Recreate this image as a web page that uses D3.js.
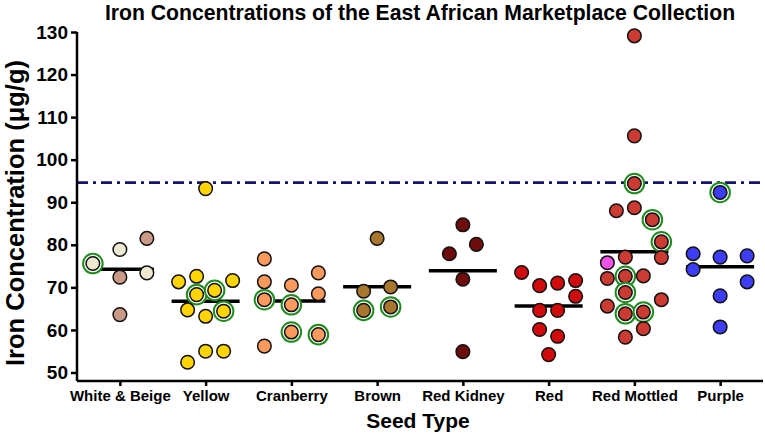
<!DOCTYPE html>
<html>
<head>
<meta charset="utf-8">
<script src="https://cdn.jsdelivr.net/npm/d3@7"></script>
<style>
  html, body { margin: 0; padding: 0; background: #fff; }
  svg { display: block; font-family: "Liberation Sans", Arial, sans-serif; }
</style>
</head>
<body>
<svg id="chart" width="765" height="435"></svg>
<script>
// ---- data ----
const categories = ["White & Beige", "Yellow", "Cranberry", "Brown", "Red Kidney", "Red", "Red Mottled", "Purple"];
const yTicks = [50, 60, 70, 80, 90, 100, 110, 120, 130];
const threshold = 94.6;

// each point: [iron µg/g, swarm column, green-ring flag, sub-type]
const whiteBeige = [[75.6, -3, 1, "white"], [78.9, 0, 0, "white"], [72.4, 0, 0, "beige"], [63.6, 0, 0, "beige"], [81.5, 3, 0, "beige"], [73.4, 3, 0, "white"]];
const yellow = [[93.2, 0, 0], [71.3, -3, 0], [72.6, -1, 0], [68.3, -1, 1], [69.3, 1, 1], [71.6, 3, 0], [64.7, -2, 0], [64.4, 2, 1], [63.2, 0, 0], [55.0, 0, 0], [55.0, 2, 0], [52.4, -2, 0]];
const cranberry = [[76.7, -3, 0], [71.3, -3, 0], [67.1, -3, 1], [56.2, -3, 0], [70.5, 0, 0], [65.9, 0, 1], [59.5, 0, 1], [73.4, 3, 0], [68.5, 3, 0], [58.9, 3, 1]];
const brown = [[81.5, 0, 0], [69.1, -1.5, 0], [70.1, 1.5, 0], [64.6, -1.5, 1], [65.4, 1.5, 1]];
const redKidney = [[84.7, 0, 0], [77.9, -1.5, 0], [80.1, 1.5, 0], [71.9, 0, 0], [54.9, 0, 0]];
const red = [[73.5, -3, 0], [70.4, -1, 0], [71.0, 1, 0], [71.6, 3, 0], [67.9, 3, 0], [64.6, -1, 0], [64.6, 1, 0], [60.1, -1, 0], [58.5, 1, 0], [54.2, 0, 0]];
const redMottled = [[129.1, 0, 0], [105.6, 0, 0], [94.4, 0, 1], [88.0, -2, 0], [88.7, 0, 0], [85.9, 2, 1], [80.7, 3, 1], [77.0, 3, 0], [77.1, -1, 0], [75.8, -3, 0, "pink"], [72.1, -3, 0], [72.6, -1, 1], [72.7, 1, 0], [68.8, -1, 1], [65.6, -3, 0], [67.1, 3, 0], [63.8, -1, 1], [64.2, 1, 1], [60.3, 1, 0], [58.3, -1, 0]];
const purple = [[92.3, 0, 1], [77.9, -3, 0], [77.1, 0, 0], [77.4, 3, 0], [74.2, -3, 0], [71.3, 3, 0], [68.0, 0, 0], [60.7, 0, 0]];

const seriesList = [whiteBeige, yellow, cranberry, brown, redKidney, red, redMottled, purple];
const baseColors = ["#c99a86", "#ffd400", "#fb9a5c", "#a8762c", "#6e0c0c", "#d10b0b", "#cc3b31", "#3d3df6"];
const subColors = { white: "#ede8d0", beige: "#c99a86", pink: "#f152e6" };

// ---- layout ----
const svg = d3.select("#chart");
const x = d3.scalePoint().domain(categories).range([77, 763]).padding(0.5);
const y = d3.scaleLinear().domain([48, 130]).range([381, 32]);
const colStep = 9;

// title
svg.append("text")
  .attr("x", 420).attr("y", 19.5)
  .attr("text-anchor", "middle")
  .attr("font-weight", "bold").attr("font-size", 21.2)
  .text("Iron Concentrations of the East African Marketplace Collection");

// threshold line
svg.append("line")
  .attr("x1", 77).attr("x2", 763)
  .attr("y1", y(threshold)).attr("y2", y(threshold))
  .attr("stroke", "#14146c").attr("stroke-width", 2.6)
  .attr("stroke-dasharray", "11,5,3,5");

// mean lines (behind points)
seriesList.forEach((s, i) => {
  const m = d3.mean(s, p => p[0]);
  svg.append("line")
    .attr("x1", x(categories[i]) - 34).attr("x2", x(categories[i]) + 34)
    .attr("y1", y(m)).attr("y2", y(m))
    .attr("stroke", "#000").attr("stroke-width", 3.5);
});

// points
const pts = [];
seriesList.forEach((s, i) => {
  s.forEach(p => pts.push({
    cat: categories[i], v: p[0], col: p[1], ring: p[2],
    color: p[3] ? subColors[p[3]] : baseColors[i]
  }));
});

const g = svg.append("g");
pts.forEach(d => {
  const cx = x(d.cat) + d.col * colStep, cy = y(d.v);
  if (d.ring) {
    g.append("circle").attr("cx", cx).attr("cy", cy).attr("r", 9.8)
      .attr("fill", "#fff").attr("stroke", "#1f8c1f").attr("stroke-width", 2);
  }
  g.append("circle").attr("cx", cx).attr("cy", cy).attr("r", 6.8)
    .attr("fill", d.color).attr("stroke", "#111").attr("stroke-width", 1.5);
});

// axes
const yAxis = svg.append("g").attr("transform", "translate(77,0)")
  .call(d3.axisLeft(y).tickValues(yTicks).tickSize(6).tickSizeOuter(0).tickPadding(3));
const xAxis = svg.append("g").attr("transform", "translate(0,381)")
  .call(d3.axisBottom(x).tickSize(5).tickSizeOuter(0).tickPadding(4));
xAxis.select(".domain").attr("d", "M77,0H763");
yAxis.select(".domain").attr("d", "M0," + y(130) + "V" + y(48));

[xAxis, yAxis].forEach(a => {
  a.selectAll(".domain, .tick line").attr("stroke", "#000").attr("stroke-width", 2.5);
  a.selectAll("text").attr("fill", "#000").attr("font-weight", "bold")
    .attr("font-family", "Liberation Sans, Arial, sans-serif");
});
yAxis.selectAll("text").attr("font-size", 19);
xAxis.selectAll("text").attr("font-size", 15);

// axis titles
svg.append("text")
  .attr("transform", "translate(23.5,213) rotate(-90)")
  .attr("text-anchor", "middle")
  .attr("font-weight", "bold").attr("font-size", 25.5)
  .text("Iron Concentration (μg/g)");

svg.append("text")
  .attr("x", 418).attr("y", 428)
  .attr("text-anchor", "middle")
  .attr("font-weight", "bold").attr("font-size", 21)
  .text("Seed Type");
</script>
</body>
</html>
